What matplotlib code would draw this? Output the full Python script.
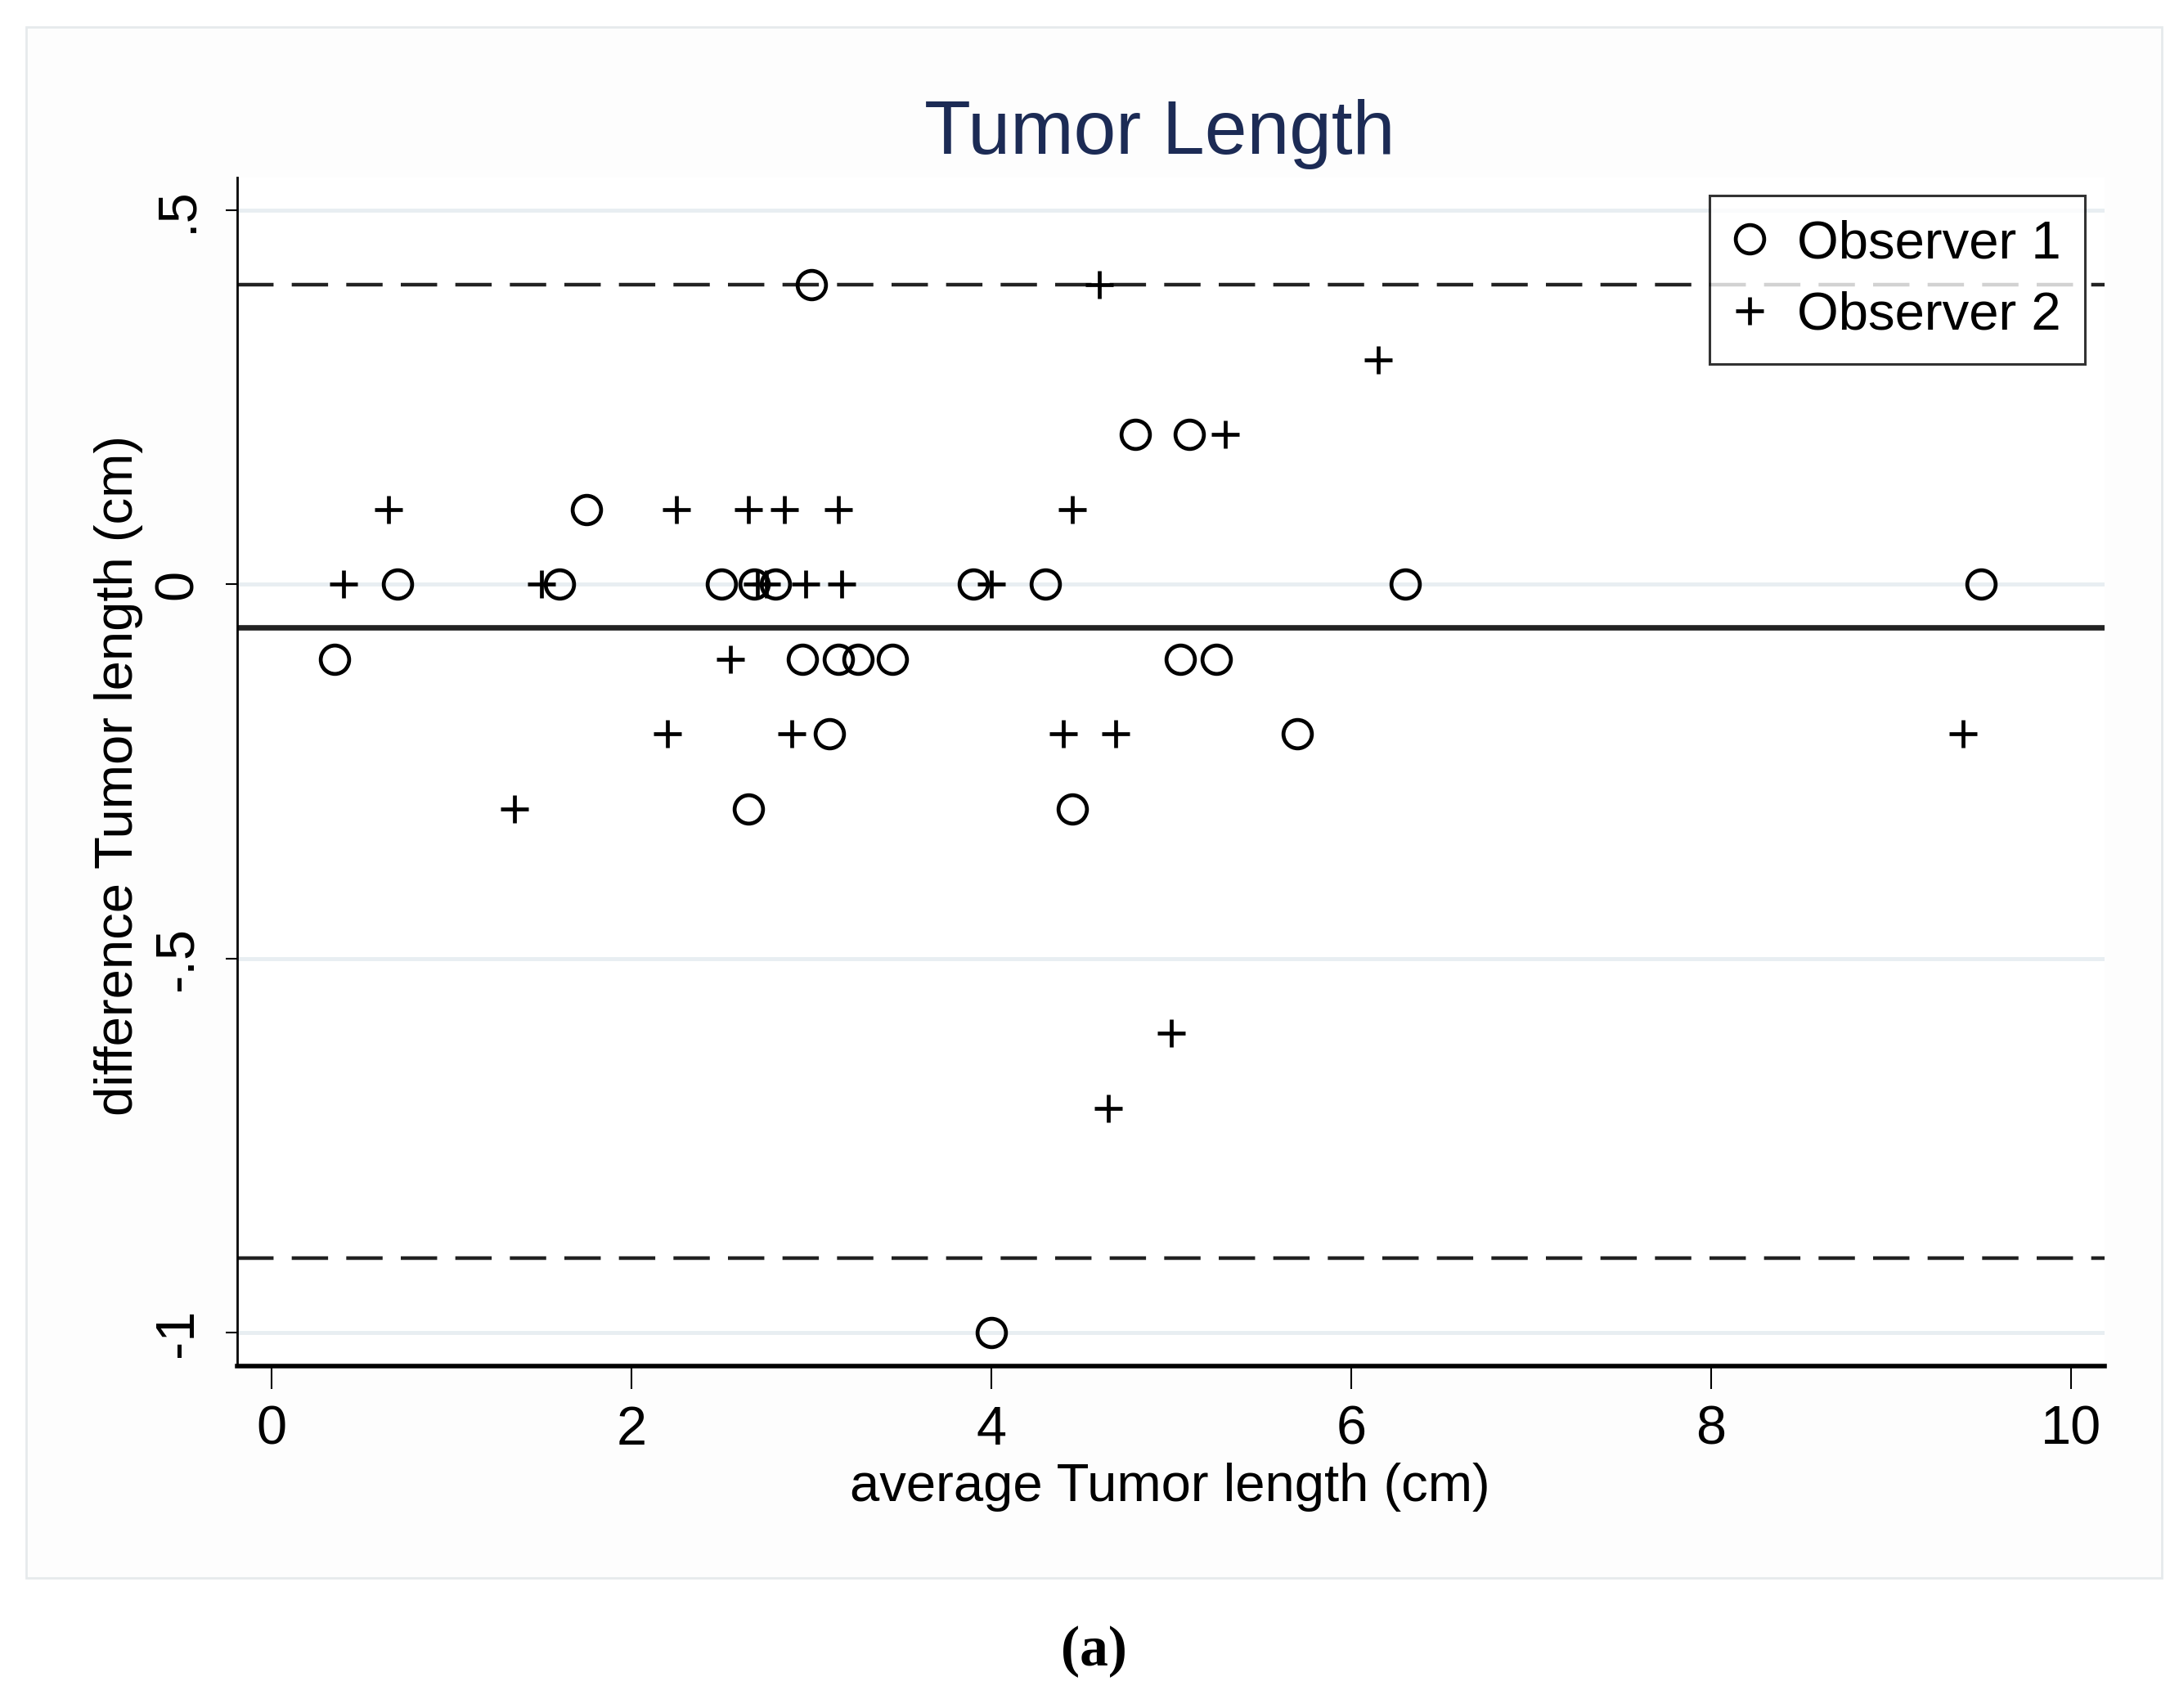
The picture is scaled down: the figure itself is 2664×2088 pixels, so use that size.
import matplotlib
matplotlib.use('Agg')
import matplotlib.pyplot as plt
from matplotlib.patches import Rectangle
import numpy as np

# average length (x) and difference (y) per observer
obs1_avg = [3.0, 4.80, 5.10, 1.75,
            0.70, 1.60, 2.50, 2.68, 2.80, 3.90, 4.30, 6.30, 9.50,
            0.35, 2.95, 3.15, 3.26, 3.45, 5.05, 5.25,
            3.10, 5.70, 2.65, 4.45, 4.0]
obs1_diff = [0.4, 0.2, 0.2, 0.1,
             0, 0, 0, 0, 0, 0, 0, 0, 0,
             -0.1, -0.1, -0.1, -0.1, -0.1, -0.1, -0.1,
             -0.2, -0.2, -0.3, -0.3, -1.0]
obs2_avg = [4.60, 6.15, 5.30,
            0.65, 2.25, 2.65, 2.85, 3.15, 4.45,
            0.40, 1.50, 2.70, 2.75, 2.97, 3.17, 4.0,
            2.55,
            2.20, 2.89, 4.40, 4.69, 9.40,
            1.35, 5.0, 4.65]
obs2_diff = [0.4, 0.3, 0.2,
             0.1, 0.1, 0.1, 0.1, 0.1, 0.1,
             0, 0, 0, 0, 0, 0, 0,
             -0.1,
             -0.2, -0.2, -0.2, -0.2, -0.2,
             -0.3, -0.6, -0.7]
mean_diff = -0.058
limits = [0.4, -0.9]
xticks = [0, 2, 4, 6, 8, 10]
yticks = [0.5, 0, -0.5, -1]
ylabels = ['.5', '0', '-.5', '-1']

plt.rcParams['font.family'] = ['Liberation Sans', 'DejaVu Sans']

fig = plt.figure(figsize=(26.64, 20.88), dpi=100)
# light graph-region frame behind everything
bg = Rectangle((0.012, 0.076), 0.98, 0.908, transform=fig.transFigure,
               facecolor='#fdfdfd', edgecolor='#e6eaec', linewidth=2, zorder=-10)
fig.patches.append(bg)
ax = fig.add_axes([0.109, 0.200, 0.857, 0.696])
ax.set_zorder(1)
ax.set_facecolor('white')

# grid lines
for yv in yticks:
    ax.axhline(yv, color='#e8eef2', linewidth=3.5, zorder=1)

ax.axhline(mean_diff, color='#222222', linewidth=4.8, zorder=2)
for lv in limits:
    ax.axhline(lv, color='#222222', linewidth=3.2, linestyle=(0, (10, 5)), zorder=2)

ax.plot(obs1_avg, obs1_diff, 'o', markersize=25, markerfacecolor='none',
        markeredgecolor='black', markeredgewidth=3.4, label='Observer 1', zorder=3)
ax.plot(obs2_avg, obs2_diff, '+', markersize=25, markeredgecolor='black',
        markeredgewidth=3.4, label='Observer 2', zorder=3)

ax.set_xlim(-0.19, 10.19)
ax.set_ylim(-1.045, 0.543)
ax.set_xticks(xticks)
ax.set_yticks(yticks)
ax.set_yticklabels(ylabels, rotation=90, va='center')
ax.tick_params(axis='x', length=20, width=1.5, pad=14, labelsize=48)
ax.tick_params(axis='y', length=10, width=1.5, pad=20, labelsize=48)

for s in ['top', 'right']:
    ax.spines[s].set_visible(False)
ax.spines['left'].set_linewidth(2)
ax.spines['bottom'].set_linewidth(4)

leg = ax.legend(loc='upper right', bbox_to_anchor=(0.9895, 0.985), fontsize=47,
                frameon=True, fancybox=False, edgecolor='black', handlelength=0.6,
                handletextpad=0.6, borderpad=0.45, labelspacing=0.42, borderaxespad=0)
leg.get_frame().set_linewidth(2.2)

fig.text(0.532, 0.91, 'Tumor Length', ha='center', va='baseline', fontsize=67, color='#1c2b55')
fig.text(0.537, 0.121, 'average Tumor length (cm)', ha='center', va='baseline', fontsize=47)
fig.text(0.0545, 0.546, 'difference Tumor length (cm)', ha='center', va='center',
         rotation=90, fontsize=47)
fig.text(0.502, 0.025, '(a)', ha='center', va='baseline', fontsize=50,
         family=['Liberation Serif', 'DejaVu Serif'], fontweight='bold')

plt.savefig('out.png', dpi=100)
